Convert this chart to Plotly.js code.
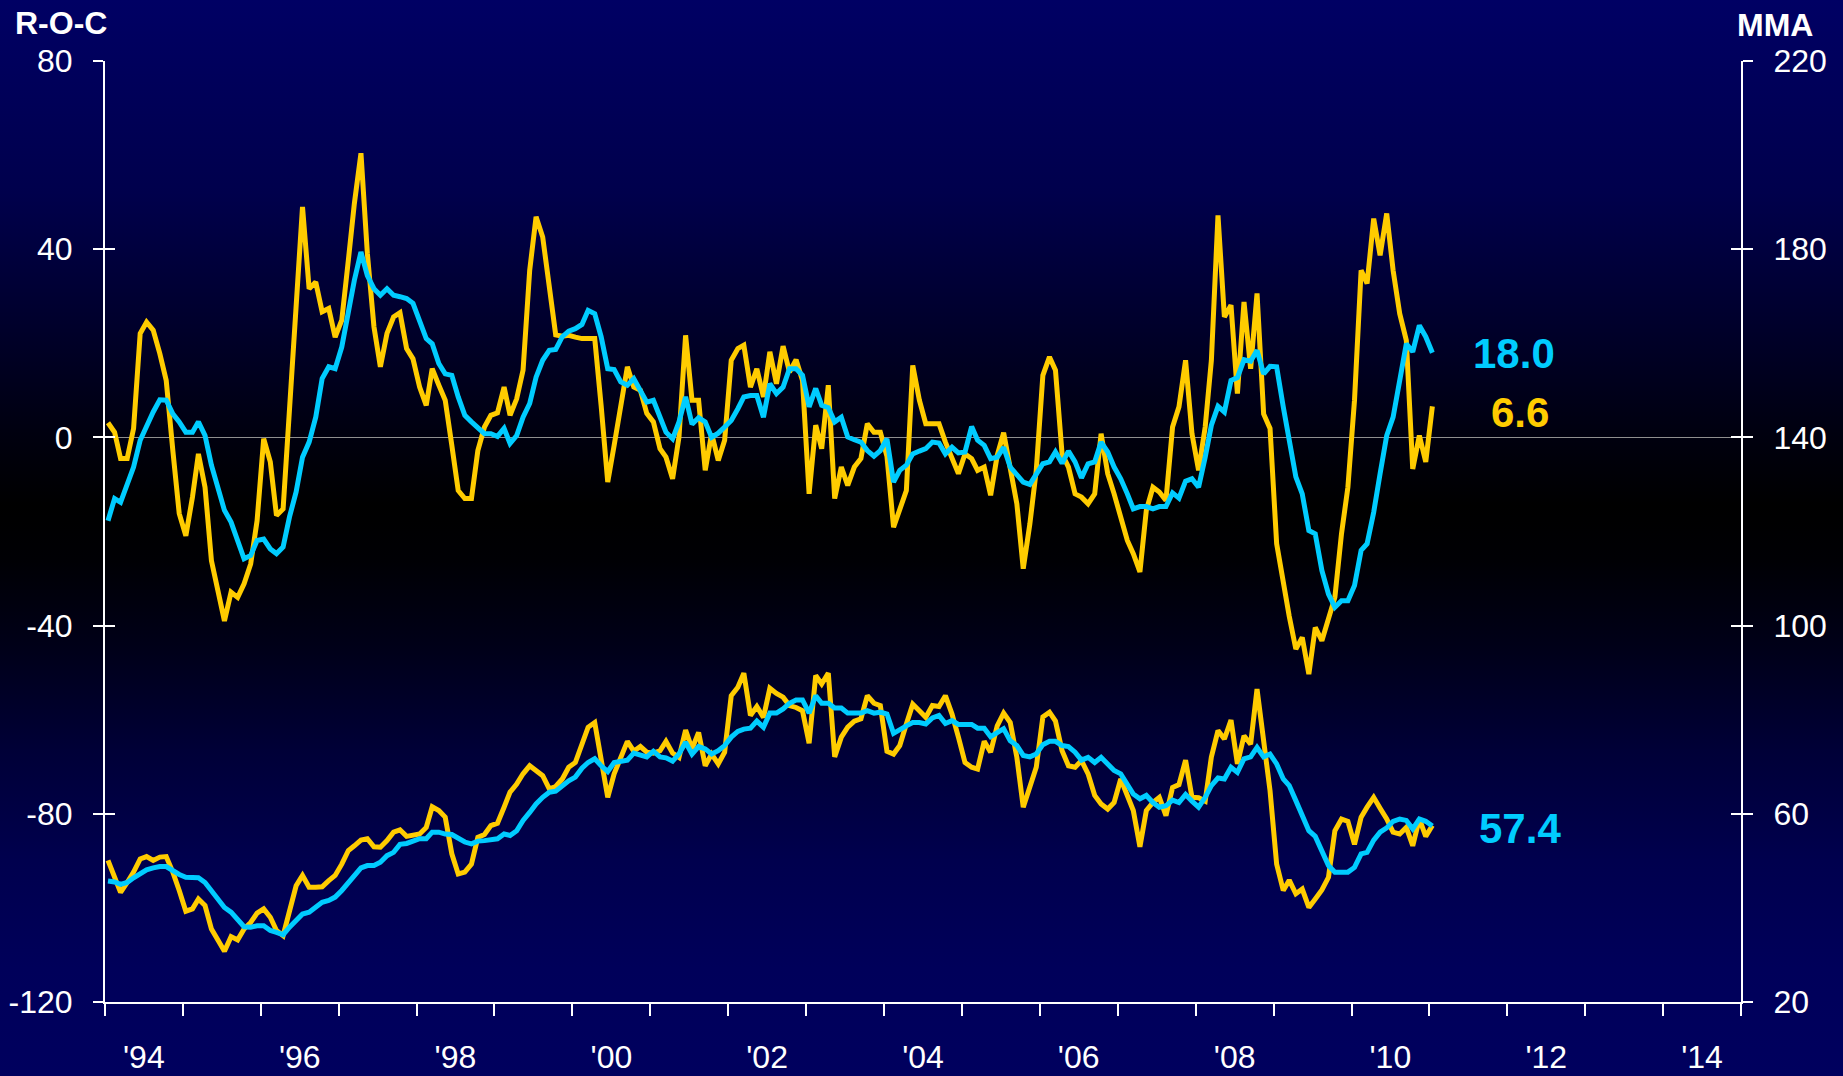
<!DOCTYPE html>
<html>
<head>
<meta charset="utf-8">
<script src="https://cdn.plot.ly/plotly-3.0.1.min.js"></script>
<style>
  html, body { margin: 0; padding: 0; }
  body {
    width: 1843px; height: 1076px; overflow: hidden;
    background: linear-gradient(to bottom,
      #000064 0%, #00004c 18%, #00002c 30%, #000010 40%, #000000 47%,
      #000004 52%, #000018 60%, #000038 70%, #00004e 80%, #00005a 90%, #00005e 100%);
  }
  #chart { width: 1843px; height: 1076px; }
</style>
</head>
<body>
<div id="chart"></div>
<script>
// ---- data (monthly, Jan 1994 .. Jan 2011) ----
const startYear = 1994;
const rocYellow = [
  3.1, 1.1, -4.5, -4.5, 1.9, 22.1, 24.5, 22.8, 17.8, 12.1,
  -2.8, -16.2, -20.9, -12.7, -3.5, -10.6, -26.2, -33.3, -39.0, -32.9,
  -34.0, -31.1, -26.9, -17.7, -0.3, -5.2, -16.6, -15.2, 6.0, 28.0,
  49.0, 31.6, 33.0, 26.7, 27.4, 21.3, 24.9, 37.7, 49.7, 60.4,
  39.1, 23.5, 15.0, 22.1, 25.6, 26.5, 18.9, 16.7, 10.7, 6.8,
  14.6, 11.1, 7.9, -1.7, -11.3, -13.0, -13.0, -2.8, 2.2, 4.7,
  5.2, 10.7, 4.7, 8.2, 14.3, 35.5, 46.9, 42.6, 31.3, 21.8,
  21.5, 21.7, 21.3, 21.0, 21.0, 21.0, 6.8, -9.5, -1.7, 6.5,
  15.0, 10.7, 10.0, 5.1, 3.3, -2.4, -4.2, -8.8, 0.1, 21.7,
  7.9, 7.9, -7.0, 0.8, -4.9, -0.6, 16.4, 18.9, 19.6, 10.7,
  14.6, 8.6, 18.2, 11.4, 19.4, 13.9, 16.5, 12.1, -12.0, 2.6,
  -2.4, 11.1, -13.0, -6.3, -10.2, -6.3, -4.5, 2.9, 1.1, 1.1,
  -4.0, -19.1, -15.2, -11.3, 15.3, 7.9, 2.9, 2.9, 2.9, -1.0,
  -4.2, -7.7, -3.5, -4.5, -7.0, -6.3, -12.3, -3.8, 1.0, -6.3,
  -14.1, -27.9, -18.4, -7.0, 13.2, 17.1, 14.3, -3.5, -6.3, -12.0,
  -12.7, -14.1, -12.0, 0.8, -7.7, -12.0, -16.9, -21.9, -24.7, -28.6,
  -15.5, -10.6, -11.6, -13.4, 2.2, 6.5, 16.4, 0.8, -7.0, 2.2,
  16.4, 47.2, 25.6, 28.1, 9.3, 28.8, 14.6, 30.6, 5.0, 1.9,
  -22.6, -31.1, -38.0, -45.0, -42.5, -50.3, -40.4, -43.2, -38.9, -34.0,
  -20.5, -10.6, 7.9, 35.5, 32.7, 46.5, 38.7, 47.6, 35.5, 26.3,
  20.6, -6.7, 0.4, -5.2, 6.6
];
const rocCyan = [
  -17.7, -13.0, -13.8, -9.9, -6.3, -0.6, 2.6, 5.4, 8.0, 7.9,
  5.0, 3.3, 1.1, 1.1, 3.3, 0.4, -5.9, -10.9, -15.5, -18.0,
  -21.9, -25.8, -25.1, -21.9, -21.6, -23.7, -24.7, -23.3, -16.9, -11.6,
  -4.2, -1.0, 4.3, 12.5, 15.0, 14.6, 19.2, 27.0, 33.4, 39.4,
  34.4, 31.6, 30.2, 31.6, 30.2, 29.9, 29.5, 28.5, 24.5, 21.0,
  19.9, 15.7, 13.5, 13.2, 8.6, 4.7, 3.3, 1.9, 0.8, 0.8,
  0.2, 1.9, -1.3, 0.4, 4.3, 7.2, 12.8, 16.4, 18.5, 18.7,
  21.4, 22.6, 23.1, 24.0, 27.0, 26.3, 21.4, 14.6, 14.4, 11.8,
  11.1, 12.5, 10.0, 7.5, 7.9, 4.0, 1.1, -0.3, 3.3, 8.6,
  2.8, 4.2, 3.3, 0.0, 0.9, 2.2, 3.6, 6.1, 8.6, 8.9,
  8.9, 4.3, 11.4, 9.3, 10.7, 14.6, 14.6, 13.2, 6.5, 10.4,
  6.8, 6.3, 3.3, 4.3, 0.1, -0.5, -1.0, -2.8, -4.0, -2.8,
  -0.3, -9.5, -7.0, -5.9, -3.5, -2.9, -2.4, -1.0, -1.2, -3.5,
  -2.1, -3.3, -3.1, 2.3, -0.6, -1.7, -4.5, -4.2, -2.1, -6.3,
  -8.1, -9.5, -10.0, -7.7, -5.6, -5.2, -3.1, -5.5, -2.9, -5.2,
  -8.6, -5.6, -5.2, -1.0, -3.1, -6.3, -8.8, -12.0, -15.2, -14.7,
  -14.7, -15.2, -14.7, -14.7, -11.8, -12.9, -9.3, -8.8, -10.6, -4.2,
  2.6, 6.6, 5.4, 12.1, 12.7, 16.5, 16.2, 18.5, 13.5, 15.1,
  15.0, 6.5, -0.6, -8.4, -12.0, -19.8, -20.5, -28.3, -33.3, -36.1,
  -34.7, -34.7, -31.5, -24.0, -22.6, -15.9, -7.7, 0.4, 4.3, 12.1,
  19.9, 18.2, 23.8, 21.4, 18.0
];
const mmaYellow = [
  50.1, 46.5, 43.3, 45.4, 47.6, 50.4, 50.9, 50.1, 50.8, 50.9,
  47.6, 43.7, 39.3, 39.8, 41.9, 40.5, 35.5, 33.1, 30.8, 33.9,
  33.2, 35.5, 36.9, 38.9, 39.8, 38.0, 35.2, 34.1, 39.8, 44.7,
  46.9, 44.4, 44.4, 44.5, 45.8, 46.9, 49.3, 52.2, 53.2, 54.4,
  54.7, 53.0, 52.9, 54.3, 56.1, 56.6, 55.2, 55.4, 55.7, 57.1,
  61.5, 60.7, 59.3, 51.5, 47.2, 47.6, 49.3, 55.0, 55.6, 57.5,
  58.0, 61.4, 64.6, 66.3, 68.5, 70.2, 69.2, 68.1, 65.3, 65.8,
  67.4, 69.9, 70.9, 74.8, 78.4, 79.4, 71.3, 63.5, 68.5, 72.0,
  75.4, 73.3, 74.3, 73.1, 72.9, 73.4, 75.4, 72.9, 72.0, 77.8,
  73.8, 77.3, 70.2, 72.7, 70.6, 73.1, 85.1, 86.9, 89.9, 80.9,
  82.8, 80.5, 86.7, 85.6, 84.8, 83.0, 82.6, 81.9, 75.0, 89.4,
  87.6, 89.9, 72.1, 76.3, 78.4, 79.7, 80.2, 85.1, 83.5, 83.0,
  73.3, 72.7, 74.5, 79.1, 83.3, 81.9, 80.5, 83.0, 82.8, 85.1,
  81.2, 76.3, 70.9, 69.9, 69.5, 75.4, 73.1, 78.7, 81.4, 79.4,
  72.0, 61.4, 65.6, 69.9, 80.6, 81.6, 79.7, 73.4, 70.2, 69.9,
  71.3, 68.5, 63.9, 62.1, 61.0, 62.4, 67.4, 64.2, 60.7, 53.0,
  60.7, 62.4, 63.5, 59.6, 65.6, 66.2, 71.4, 63.5, 63.4, 62.7,
  72.1, 77.7, 75.9, 79.9, 70.6, 76.6, 74.8, 86.5, 74.8, 64.9,
  49.3, 43.7, 45.9, 43.0, 44.0, 40.1, 41.9, 43.8, 46.5, 56.4,
  58.9, 58.4, 53.5, 59.3, 61.4, 63.5, 61.2, 58.9, 56.1, 55.7,
  57.1, 53.2, 58.9, 55.2, 57.5
];
const mmaCyan = [
  45.7, 45.5, 45.0, 45.4, 46.4, 47.2, 48.1, 48.5, 48.8, 48.8,
  47.9, 47.1, 46.5, 46.5, 46.4, 45.4, 43.7, 41.9, 40.1, 39.1,
  37.4, 36.0, 35.9, 36.2, 36.2, 35.2, 34.8, 34.3, 35.9, 37.3,
  38.7, 39.1, 40.1, 41.2, 41.6, 42.3, 43.7, 45.4, 46.9, 48.5,
  49.0, 49.0, 49.7, 51.1, 51.8, 53.5, 53.7, 54.3, 54.7, 54.7,
  56.1, 56.1, 55.7, 55.6, 54.7, 54.0, 53.6, 54.2, 54.3, 54.4,
  54.7, 55.7, 55.4, 56.4, 58.6, 60.3, 62.1, 63.5, 64.6, 64.8,
  66.0, 67.0, 67.8, 69.7, 70.9, 71.7, 70.2, 69.0, 70.9, 71.2,
  71.4, 72.9, 72.6, 72.1, 73.3, 72.1, 71.9, 71.2, 72.7, 75.2,
  72.7, 74.3, 73.8, 72.7, 73.4, 74.5, 76.3, 77.5, 78.0, 78.2,
  79.7, 78.4, 81.4, 81.4, 82.3, 83.5, 84.2, 84.2, 81.4, 85.1,
  83.5, 83.5, 82.5, 82.5, 81.4, 81.4, 81.4, 81.9, 81.4, 81.6,
  81.2, 77.1, 78.0, 78.7, 79.4, 79.4, 79.1, 80.4, 80.9, 79.2,
  79.8, 79.0, 79.0, 79.0, 78.2, 78.2, 76.4, 77.3, 78.1, 75.5,
  74.5, 72.4, 72.1, 72.7, 74.7, 75.4, 75.4, 74.5, 74.3, 73.1,
  71.4, 72.0, 70.9, 72.0, 70.6, 69.2, 68.5, 66.3, 64.2, 63.2,
  63.9, 62.4, 61.4, 61.7, 62.9, 62.4, 64.1, 62.7, 61.4, 63.5,
  66.0, 67.6, 67.4, 69.9, 68.8, 71.7, 72.1, 74.1, 72.1, 72.7,
  70.6, 67.4, 66.0, 62.8, 59.6, 56.4, 55.2, 52.0, 49.0, 47.6,
  47.6, 47.6, 48.6, 51.5, 51.8, 54.4, 56.1, 57.0, 58.4, 58.9,
  58.6, 56.8, 58.9, 58.4, 57.4
];
const yearTickYears = [1994,1995,1996,1997,1998,1999,2000,2001,2002,2003,2004,2005,2006,2007,2008,2009,2010,2011,2012,2013,2014,2015];
const labelYears = [1994,1996,1998,2000,2002,2004,2006,2008,2010,2012,2014];
const labelText = ["'94","'96","'98","'00","'02","'04","'06","'08","'10","'12","'14"];
const leftTicks = [-120,-80,-40,0,40,80];
const leftTickText = ["-120","-80","-40","0","40","80"];
const rightTicks = [20,60,100,140,180,220];
const rightTickText = ["20","60","100","140","180","220"];
const lastLabels = {rocCyan: "18.0", rocYellow: "6.6", mmaCyan: "57.4"};

// ---- build ----
const dates = rocYellow.map((_, k) => {
  const y = startYear + Math.floor(k / 12);
  const m = (k % 12) + 1;
  return y + '-' + String(m).padStart(2, '0') + '-15';
});
const YELLOW = '#FFCC00', CYAN = '#00CCFF', WHITE = '#FFFFFF';
const FONT = 'Arial, "Liberation Sans", Helvetica, sans-serif';

const lineTrace = (y, color, yaxis, name) => ({
  type: 'scatter', mode: 'lines', x: dates, y: y, xaxis: 'x', yaxis: yaxis,
  line: {color: color, width: 5, shape: 'linear'}, name: name, hoverinfo: 'skip'
});
const emptyTrace = (xa, ya) => ({type: 'scatter', mode: 'lines', x: [], y: [], xaxis: xa, yaxis: ya, hoverinfo: 'skip', showlegend: false});

const data = [
  lineTrace(rocYellow, YELLOW, 'y', 'R-O-C'),
  lineTrace(mmaYellow, YELLOW, 'y2', 'MMA'),
  lineTrace(rocCyan, CYAN, 'y', 'R-O-C smoothed'),
  lineTrace(mmaCyan, CYAN, 'y2', 'MMA smoothed'),
  emptyTrace('x2', 'y'),
  emptyTrace('x', 'y3'),
  emptyTrace('x', 'y4')
];

const xRange = ['1994-01-01', '2015-01-01'];
const tickStyle = {ticklen: 10, tickwidth: 2, tickcolor: WHITE};

const layout = {
  width: 1843, height: 1076,
  margin: {l: 105, r: 102, t: 61, b: 74, pad: 0},
  paper_bgcolor: 'rgba(0,0,0,0)', plot_bgcolor: 'rgba(0,0,0,0)',
  showlegend: false,
  font: {family: FONT, color: WHITE},
  xaxis: {
    type: 'date', range: xRange, tickmode: 'array',
    tickvals: yearTickYears.map(y => y + '-01-01'),
    ticks: 'outside', ticklen: 12, tickwidth: 2, tickcolor: WHITE,
    showticklabels: false, showline: true, linecolor: WHITE, linewidth: 2,
    showgrid: false, zeroline: false, fixedrange: true
  },
  xaxis2: {
    type: 'date', range: xRange, overlaying: 'x', anchor: 'y', side: 'bottom',
    tickmode: 'array', tickvals: labelYears.map(y => y + '-07-02'), ticktext: labelText,
    ticks: '', showline: false, showgrid: false, zeroline: false,
    tickfont: {family: FONT, size: 32, color: WHITE}, ticklabelstandoff: 33, fixedrange: true
  },
  yaxis: {
    range: [-120, 80], tickmode: 'array', tickvals: leftTicks, ticktext: leftTickText,
    ticks: 'outside', ...tickStyle,
    showline: true, linecolor: WHITE, linewidth: 2, showgrid: false,
    zeroline: true, zerolinecolor: '#8f8f8f', zerolinewidth: 1,
    tickfont: {family: FONT, size: 32, color: WHITE}, ticklabelstandoff: 14, fixedrange: true
  },
  yaxis2: {
    range: [20, 220], overlaying: 'y', side: 'right', anchor: 'x', tickmode: 'array', tickvals: rightTicks, ticktext: rightTickText,
    ticks: 'outside', ...tickStyle,
    showline: true, linecolor: WHITE, linewidth: 2, showgrid: false, zeroline: false,
    tickfont: {family: FONT, size: 32, color: WHITE}, ticklabelstandoff: 14, fixedrange: true
  },
  yaxis3: {
    range: [-120, 80], overlaying: 'y', side: 'left', anchor: 'x', tickmode: 'array', tickvals: leftTicks,
    ticks: 'inside', ...tickStyle, showticklabels: false, showline: false, showgrid: false, zeroline: false, fixedrange: true
  },
  yaxis4: {
    range: [20, 220], overlaying: 'y', side: 'right', anchor: 'x', tickmode: 'array', tickvals: rightTicks,
    ticks: 'inside', ...tickStyle, showticklabels: false, showline: false, showgrid: false, zeroline: false, fixedrange: true
  },
  annotations: [
    {text: '<b>R-O-C</b>', xref: 'paper', yref: 'paper', x: -0.027, y: 1.040, xanchor: 'center', yanchor: 'middle',
     showarrow: false, font: {family: FONT, size: 32, color: WHITE}},
    {text: '<b>MMA</b>', xref: 'paper', yref: 'paper', x: 1.0206, y: 1.038, xanchor: 'center', yanchor: 'middle',
     showarrow: false, font: {family: FONT, size: 32, color: WHITE}},
    {text: '<b>' + lastLabels.rocCyan + '</b>', xref: 'x', yref: 'y', x: '2012-02-01', y: 17.9, xanchor: 'center', yanchor: 'middle',
     showarrow: false, font: {family: FONT, size: 42, color: CYAN}},
    {text: '<b>' + lastLabels.rocYellow + '</b>', xref: 'x', yref: 'y', x: '2012-03-01', y: 5.3, xanchor: 'center', yanchor: 'middle',
     showarrow: false, font: {family: FONT, size: 42, color: YELLOW}},
    {text: '<b>' + lastLabels.mmaCyan + '</b>', xref: 'x', yref: 'y2', x: '2012-03-01', y: 56.8, xanchor: 'center', yanchor: 'middle',
     showarrow: false, font: {family: FONT, size: 42, color: CYAN}}
  ]
};

Plotly.newPlot('chart', data, layout, {staticPlot: true, displayModeBar: false});
</script>
</body>
</html>
